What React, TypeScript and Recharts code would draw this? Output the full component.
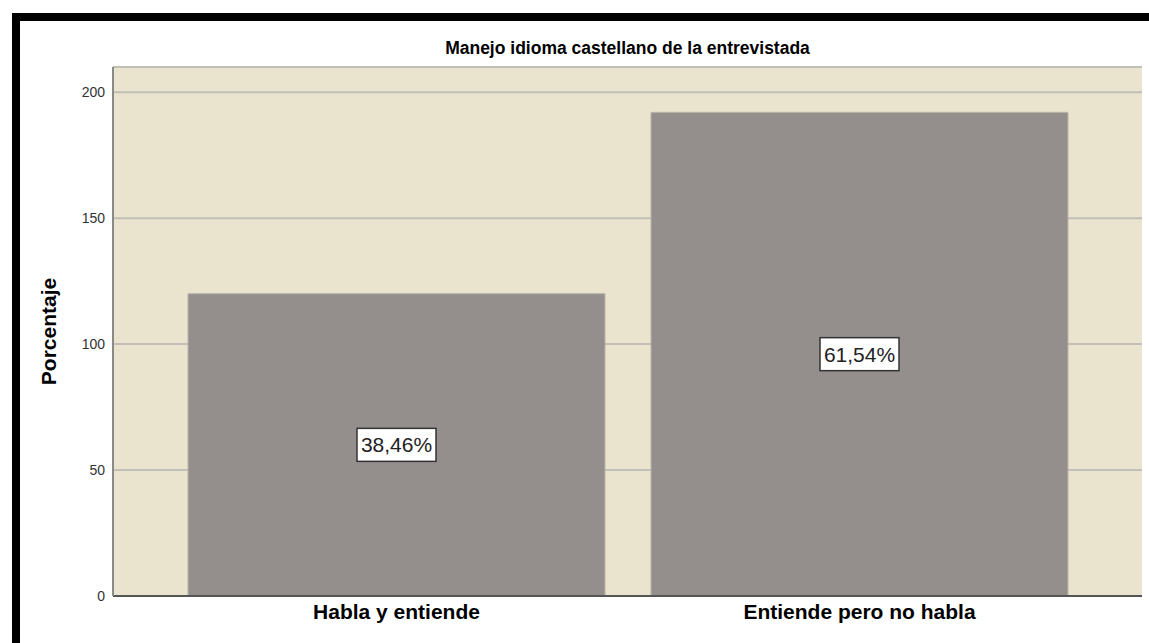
import React from 'react';
import { BarChart, Bar, XAxis, YAxis, CartesianGrid, LabelList } from 'recharts';

const title = 'Manejo idioma castellano de la entrevistada';
const yTitle = 'Porcentaje';
const categories = ['Habla y entiende', 'Entiende pero no habla'];
const values = [120, 192];
const yTicks = [0, 50, 100, 150, 200];
const yDomain = [0, 210];

const total = values.reduce((a, b) => a + b, 0);
const data = categories.map((c, i) => ({ name: c, value: values[i] }));

const FONT = '"Liberation Sans", Arial, sans-serif';

const PctLabel = (props: any) => {
  const { x, y, width, height, value } = props;
  const cx = x + width / 2;
  const cy = y + height / 2;
  const txt = ((value / total) * 100).toFixed(2).replace('.', ',') + '%';
  const w = 79;
  const h = 33;
  return (
    <g>
      <rect x={cx - w / 2} y={cy - h / 2} width={w} height={h} fill="#ffffff" stroke="#333333" strokeWidth={1.5} />
      <text x={cx} y={cy} textAnchor="middle" dominantBaseline="central" fontFamily={FONT} fontSize={21} fill="#222222">
        {txt}
      </text>
    </g>
  );
};

const YTitle = (props: any) => {
  const { viewBox } = props;
  const cy = viewBox.y + viewBox.height / 2;
  const cx = 48;
  return (
    <text x={cx} y={cy} transform={`rotate(-90 ${cx} ${cy})`} textAnchor="middle" dominantBaseline="central" fontFamily={FONT} fontWeight="bold" fontSize={21} fill="#000">
      {yTitle}
    </text>
  );
};

export default function App() {
  return (
    <div style={{ position: 'absolute', left: 0, top: 0, width: 1149, height: 643, background: '#fff', overflow: 'hidden' }}>
      <div style={{ position: 'absolute', left: 12, top: 13, width: 1137, height: 8, background: '#000' }} />
      <div style={{ position: 'absolute', left: 12, top: 13, width: 8, height: 630, background: '#000' }} />
      <div style={{ position: 'absolute', left: 0, top: 38, width: 1255, textAlign: 'center', fontFamily: FONT, fontWeight: 'bold', fontSize: 17.5, color: '#000' }}>
        {title}
      </div>
      <div style={{ position: 'absolute', left: 0, top: 0 }}>
        <BarChart width={1149} height={643} data={data} margin={{ top: 67, right: 7, bottom: 0, left: 0 }} barCategoryGap={23}>
          <CartesianGrid horizontal={true} vertical={false} fill="#EAE4CF" stroke="#c2bfb6" strokeWidth={2} />
          <XAxis
            dataKey="name"
            height={47}
            tickLine={false}
            axisLine={{ stroke: '#555555', strokeWidth: 2 }}
            padding={{ left: 52, right: 51 }}
            tick={{ fontFamily: FONT, fontWeight: 'bold', fontSize: 21, fill: '#000' }}
          />
          <YAxis
            width={113}
            domain={yDomain}
            ticks={yTicks}
            interval={0}
            tickLine={false}
            axisLine={{ stroke: '#8a8a8a', strokeWidth: 2 }}
            tick={{ fontFamily: FONT, fontSize: 14, fill: '#333333' }}
            label={<YTitle />}
          />
          <Bar dataKey="value" fill="#948F8D" stroke="#b8b3aa" strokeWidth={1} isAnimationActive={false}>
            <LabelList dataKey="value" content={<PctLabel />} />
          </Bar>
        </BarChart>
      </div>
    </div>
  );
}
